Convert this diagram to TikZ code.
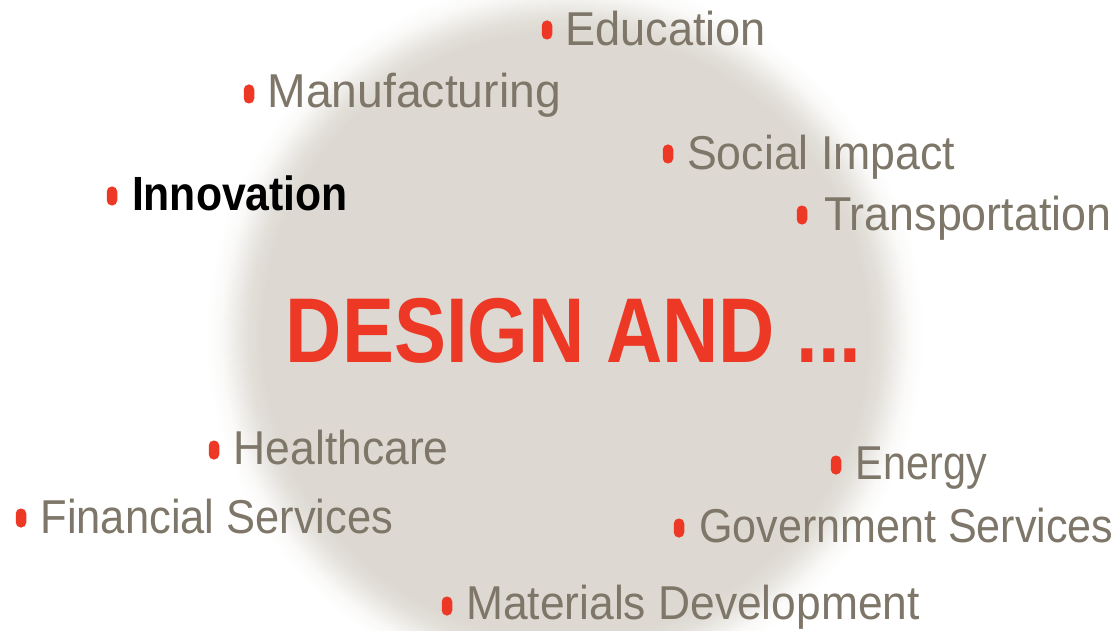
\documentclass[tikz,border=0pt]{standalone}
\usepackage{fontspec}
\setmainfont{Liberation Sans}
\usepackage{graphicx}
\definecolor{discgrey}{RGB}{221,217,210}
\definecolor{itemgrey}{RGB}{126,118,104}
\definecolor{accentred}{RGB}{236,56,37}
\colorlet{discA}{discgrey!85!white}
\colorlet{discB}{discgrey!50!white}
\colorlet{discC}{discgrey!15!white}
\pgfdeclareradialshading{softdisc}{\pgfpoint{0bp}{0bp}}{color(0bp)=(discgrey); color(19.9bp)=(discgrey); color(20.8bp)=(discA); color(21.7bp)=(discB); color(22.6bp)=(discC); color(23.6bp)=(white); color(50bp)=(white)}
\tikzset{
  itemlabel/.style={anchor=base west, inner sep=0pt, text=itemgrey, font=\fontsize{47.5}{50}\selectfont},
  keylabel/.style={anchor=base west, inner sep=0pt, text=black, font=\fontsize{48}{50}\selectfont\bfseries},
  headline/.style={anchor=base west, inner sep=0pt, text=accentred, font=\fontsize{92}{96}\selectfont\bfseries},
  bulletmark/.style={fill=accentred, draw=none, rectangle, rounded corners=5pt, minimum width=10.5pt, minimum height=19pt, inner sep=0pt},
}
\begin{document}
\begin{tikzpicture}[x=1pt,y=-1pt]
\useasboundingbox[fill=white] (0,0) rectangle (1118,631);
\begin{scope}
\clip (0,0) rectangle (1118,631);
\shade[shading=softdisc] (565,335) circle[radius=380];
\end{scope}

\node[headline] (title) at (285.6,362) {\scalebox{0.847}[1]{DESIGN AND ...}};

\node[bulletmark] (edub) at (547,30) {};
\node[itemlabel] (edu) at (565,45.5) {\scalebox{0.95}[1]{Education}};

\node[bulletmark] (manb) at (249,94) {};
\node[itemlabel] (man) at (267.5,108) {\scalebox{0.974}[1]{Manufacturing}};

\node[bulletmark] (socb) at (668,154) {};
\node[itemlabel] (soc) at (687,170) {\scalebox{0.94}[1]{Social Impact}};

\node[bulletmark] (trab) at (802,215) {};
\node[itemlabel] (tra) at (824,230) {\scalebox{0.943}[1]{Transportation}};

\node[bulletmark] (innb) at (112,196) {};
\node[keylabel] (inn) at (131.8,211) {\scalebox{0.89}[1]{Innovation}};

\node[bulletmark] (heab) at (214,450) {};
\node[itemlabel] (hea) at (233.5,464.5) {\scalebox{0.936}[1]{Healthcare}};

\node[bulletmark] (eneb) at (836,465) {};
\node[itemlabel] (ene) at (855.7,479.5) {\scalebox{0.87}[1]{Energy}};

\node[bulletmark] (finb) at (21,518) {};
\node[itemlabel] (fin) at (40.4,533) {\scalebox{0.915}[1]{Financial Services}};

\node[bulletmark] (govb) at (679,528) {};
\node[itemlabel] (gov) at (699,542) {\scalebox{0.907}[1]{Government Services}};

\node[bulletmark] (matb) at (447,606) {};
\node[itemlabel] (mat) at (466,619) {\scalebox{0.934}[1]{Materials Development}};
\end{tikzpicture}
\end{document}
